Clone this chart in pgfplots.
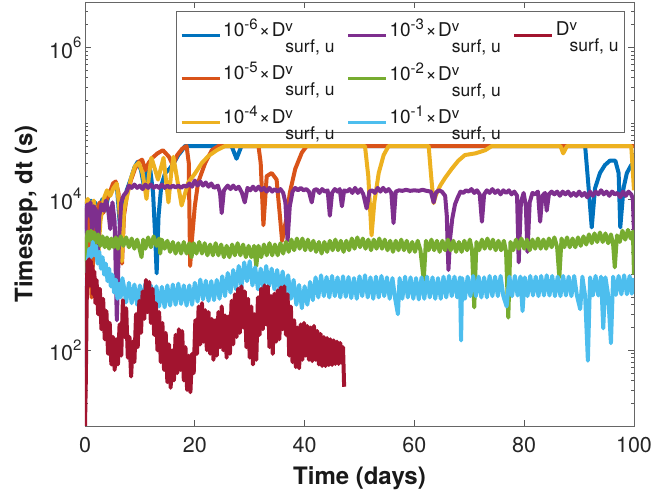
\documentclass[border=0pt]{standalone}
\usepackage{fontspec}
\setmainfont{TeX Gyre Heros}
\usepackage{pgfplots}
\pgfplotsset{compat=1.18}

\definecolor{mBlue}{rgb}{0,0.447,0.741}
\definecolor{mOrange}{rgb}{0.85,0.325,0.098}
\definecolor{mYellow}{rgb}{0.929,0.694,0.125}
\definecolor{mPurple}{rgb}{0.494,0.184,0.556}
\definecolor{mGreen}{rgb}{0.466,0.674,0.188}
\definecolor{mCyan}{rgb}{0.301,0.745,0.933}
\definecolor{mRed}{rgb}{0.635,0.078,0.184}

% superscript for tick labels
\newcommand{\sups}[1]{\raisebox{0.5em}{\fontsize{15}{15}\selectfont #1}}
% D^v_{surf, u} with stacked super- and subscript
\newcommand{\Dsu}{D\rlap{\raisebox{5pt}{\fontsize{15}{15}\selectfont v}}\raisebox{-16pt}{\fontsize{17.5}{18}\selectfont surf, u}}
\newcommand{\tenx}[1]{10\raisebox{7pt}{\fontsize{15}{15}\selectfont #1}\hspace{1.5pt}×\hspace{1.5pt}\Dsu}

\begin{document}
\begin{tikzpicture}
\begin{axis}[
  width=549pt, height=424pt, scale only axis,
  xmin=0, xmax=100, ymin=10, ymax=4e6, ymode=log,
  no markers,
  xtick={0,20,40,60,80,100}, xticklabels={0,20,40,60,80,100},
  ytick={100,10000,1000000}, yticklabels={10\sups{2},10\sups{4},10\sups{6}},
  minor ytick={20,30,40,50,60,70,80,90,200,300,400,500,600,700,800,900,1000,2000,3000,4000,5000,6000,7000,8000,9000,20000,30000,40000,50000,60000,70000,80000,90000,100000,200000,300000,400000,500000,600000,700000,800000,900000,2000000,3000000},
  tick align=inside, tick pos=both,
  major tick length=6pt, minor tick length=3.5pt,
  every tick/.append style={black!65, line width=0.6pt},
  axis line style={black!60, line width=0.7pt},
  tick label style={font=\fontsize{21.5}{24}\selectfont, text=black!85},
  xticklabel style={yshift=-8pt},
  xlabel={Time (days)}, ylabel={Timestep, dt (s)},
  label style={font=\fontsize{24}{28}\selectfont\bfseries, text=black!90},
  xlabel style={at={(axis description cs:0.5,-0.1226)}, anchor=center},
  ylabel style={at={(axis description cs:-0.1075,0.5)}, anchor=center},
  legend columns=3,
  legend cell align=left,
  legend image code/.code={\draw[#1] (0pt,-7pt) -- (38pt,-7pt);},
  legend style={at={(0.9836,0.9788)}, anchor=north east, draw=black!60,
    line width=0.6pt, fill=white, font=\fontsize{19}{22}\selectfont, text=black!90,
    inner xsep=4pt, inner ysep=6pt, row sep=20pt,
    /tikz/every even column/.append style={column sep=10pt}},
  every axis plot/.append style={line width=4pt, line join=round},
]
\coordinate (sw) at (rel axis cs:0,0);
\coordinate (ne) at (rel axis cs:1,1);

% legend, filled row by row
\addlegendimage{mBlue, line width=3pt}   \addlegendentry{\tenx{-6}}
\addlegendimage{mPurple, line width=3pt} \addlegendentry{\tenx{-3}}
\addlegendimage{mRed, line width=3pt}    \addlegendentry{\Dsu}
\addlegendimage{mOrange, line width=3pt} \addlegendentry{\tenx{-5}}
\addlegendimage{mGreen, line width=3pt}  \addlegendentry{\tenx{-2}}
\addlegendimage{empty legend}            \addlegendentry{}
\addlegendimage{mYellow, line width=3pt} \addlegendentry{\tenx{-4}}
\addlegendimage{mCyan, line width=3pt}   \addlegendentry{\tenx{-1}}

% 1e-6
\addplot[mBlue, forget plot] coordinates {
(0,3500) (0.3,9000) (0.7,6000) (1.1,9500) (1.5,5500) (1.9,9000) (2.3,3000) (2.7,8000) (3.2,10000) (3.7,7000) (4.2,10500) (4.8,13000) (5.3,16000) (5.8,15000) (6.3,5000) (6.6,2500) (7.0,8000) (7.6,13000) (8.3,18000) (9.0,26000) (9.6,31000) (10.2,24000) (10.8,14000) (11.3,26000) (11.9,24000) (12.4,12000) (12.8,3000) (13.05,1040) (13.4,6000) (13.9,15000) (14.6,22000) (15.4,25000) (16.2,30000) (17.0,38000) (17.6,43000) (18.2,50000) (26.7,50000) (27.6,34000) (28.5,50000) (91.1,50000) (91.7,15000) (92.3,4200) (92.9,13800) (93.8,22000) (94.7,28000) (95.6,32000) (96.6,32000) (97.2,22000) (97.5,4200) (98.1,14000) (98.7,22000) (99.5,28000) (100,30000)
};
% 1e-5
\addplot[mOrange, forget plot] coordinates {
(0,4000) (0.4,8000) (0.8,3000) (1.2,500) (1.6,3000) (2.1,7000) (2.7,9000) (3.3,6500) (3.9,9500) (4.5,12000) (5.1,16000) (5.6,17000) (6.1,12000) (6.5,4000) (6.75,1400) (7.1,6000) (7.7,12000) (8.4,18000) (9.1,25000) (9.8,31000) (10.4,33000) (11.0,24000) (11.6,30000) (12.3,35000) (13.2,40000) (14.2,44000) (15.3,36000) (16.0,28000) (16.8,38000) (17.7,46000) (18.5,50000) (18.9,30000) (19.15,1300) (19.5,3000) (20.0,8000) (20.6,16500) (21.9,30000) (23.1,44000) (24.3,50000) (31.6,50000) (32.0,30000) (32.5,4500) (33.1,20000) (34.0,22000) (34.9,18000) (35.5,6000) (35.9,2800) (36.7,5600) (37.3,12000) (38.3,25000) (39.5,41000) (40.4,50000) (100,50000)
};
% 1e-4
\addplot[mYellow, forget plot] coordinates {
(0,8500) (0.5,10000) (1.0,8000) (1.6,9500) (2.1,5000) (2.4,1700) (2.8,5000) (3.4,10000) (4.0,13000) (4.6,11000) (5.2,14000) (5.8,16000) (6.3,7000) (6.7,1500) (7.1,7000) (7.8,12000) (8.4,19000) (9.1,27000) (9.8,30000) (10.5,22000) (11.2,10000) (11.7,22000) (12.1,35000) (12.8,24000) (13.3,18000) (14.3,35000) (15.2,9000) (15.7,22000) (16.1,36000) (16.8,18000) (17.6,8200) (18.8,16500) (20.0,21500) (21.3,30000) (22.5,37000) (24.0,44000) (25.5,50000) (51.0,50000) (51.6,20000) (52.2,3300) (52.7,9000) (53.5,22000) (54.4,38000) (55.3,50000) (62.6,50000) (63.0,22000) (63.5,8800) (63.9,11200) (64.7,15000) (65.6,19000) (66.8,25000) (68.0,32000) (69.2,38000) (71.1,40000) (72.9,44000) (74.1,50000) (86.6,50000) (87.1,40000) (87.8,50000) (99.5,50000) (100,13000)
};
% 1e-3
\addplot[mPurple, forget plot] coordinates {
(0,1500) (0.15,6000) (0.4,8500) (0.7,6000) (1.0,9000) (1.3,4000) (1.6,8000) (2.0,7000) (2.3,1500) (2.6,6000) (3.0,8500) (3.4,7000) (3.8,9500) (4.2,7500) (4.6,4000) (5.0,9000) (5.4,5000) (5.8,250) (6.2,3000) (6.6,9000) (7.0,11000) (7.6,12500) (8.0,15000) (8.5,14000) (9.0,15500) (9.5,14000) (10.0,15000) (10.5,13500) (11.0,15500) (11.5,14000) (12.0,15500) (12.5,14000) (13.0,15000) (13.5,14000) (14.0,15500) (14.5,14000) (15.0,15000) (15.5,14000) (16.0,15000) (16.5,14200) (17.0,15000) (17.5,14000) (18.0,15000) (18.5,14500) (19.0,16000) (19.5,14500) (20.0,17500) (20.5,15000) (21.0,17000) (21.5,15000) (22.0,16500) (22.5,14500) (23.0,16000) (23.5,14000) (24.2,15000) (24.6,12000) (24.9,6500) (25.3,13000) (26.0,15000) (26.5,13500) (27.0,15000) (27.5,13500) (28.0,14500) (28.6,12000) (29.1,9000) (29.6,14000) (30.1,13000) (30.6,14500) (31.1,13000) (31.6,14500) (32.1,13000) (32.6,14000) (33.1,12500) (33.6,14000) (34.1,12500) (34.6,13500) (35.1,12500) (35.6,13500) (36.1,12000) (36.5,9000) (36.9,2800) (37.3,8000) (37.8,12500) (38.3,14000) (38.8,13000) (39.3,14000) (39.8,13000) (40.3,13500) (40.8,12500) (41.3,9000) (41.7,13000) (42.2,13500) (42.7,12000) (43.2,13500) (43.7,12500) (44.2,13000) (44.6,6000) (45.0,12000) (45.5,13500) (46.0,12500) (46.4,13500) (46.8,8000) (47.2,13000) (47.7,12500) (48.2,13500) (48.7,12000) (49.2,14000) (49.7,12000) (50.2,13500) (50.7,11500) (51.3,7500) (51.8,12500) (52.3,13000) (52.8,12000) (53.3,14000) (53.8,12500) (54.3,14000) (54.8,12500) (55.3,13500) (55.8,12000) (56.2,4800) (56.6,12500) (57.2,13000) (57.8,12800) (58.5,13200) (59.2,12800) (60.0,13000) (60.8,12800) (61.5,13200) (62.2,12800) (63.0,12500) (63.5,9000) (63.9,12000) (64.4,13000) (65.0,12500) (65.6,11000) (65.9,6000) (66.2,1150) (66.5,3000) (66.9,5500) (67.4,8500) (67.9,10500) (68.4,12500) (68.9,12000) (69.4,13000) (69.9,12500) (70.4,13500) (70.9,12000) (71.4,13000) (71.9,11500) (72.3,5000) (72.7,11500) (73.2,13000) (73.7,12000) (74.2,13500) (74.7,12000) (75.2,13000) (75.7,11500) (76.2,13000) (76.7,12000) (77.2,13000) (77.7,11500) (78.2,12500) (78.7,11000) (79.0,1450) (79.4,9000) (79.9,12000) (80.3,8000) (80.6,2000) (81.0,9000) (81.5,12000) (82.0,11500) (82.5,12500) (82.9,5000) (83.3,11000) (83.8,12000) (84.1,7000) (84.5,11500) (85.0,12500) (85.5,11500) (86.0,12500) (86.5,11000) (87.0,12500) (87.5,11500) (88.0,12500) (88.5,11000) (89.0,12000) (89.5,11000) (90.0,12500) (90.5,11000) (91.0,12000) (91.5,10500) (92.0,12500) (92.5,11000) (93.0,12500) (93.5,11500) (94.0,13000) (94.5,11500) (95.0,12500) (95.5,11000) (96.0,12500) (96.5,11500) (97.0,12000) (97.5,10500) (98.0,12500) (98.5,11000) (99.0,12500) (99.5,11500) (99.8,10000) (100,3600)
};
% 1e-2
\addplot[mGreen, forget plot] coordinates {
(0,1000) (0.2,2600) (0.5,3700) (0.8,2800) (1.1,3800) (1.4,2900) (1.7,3600) (2.0,2600) (2.4,3400) (2.8,2400) (3.2,3200) (3.6,2300) (4.0,3100) (4.4,2200) (4.8,3000) (5.2,2300) (5.6,3100) (6.0,2200) (6.5,3200) (7.0,2400) (7.5,3100) (8.0,2300) (8.5,3000) (9.0,2200) (9.5,2900) (10.0,2100) (10.3,1700) (10.6,2900) (11.0,2200) (11.5,3100) (12.0,2300) (12.5,3200) (13.0,2400) (13.5,3000) (13.7,1900) (14.0,2900) (14.5,2200) (15.0,2800) (15.5,2000) (16.0,2700) (16.5,1900) (17.0,2600) (17.5,1900) (18.0,2700) (18.5,1900) (19.0,2600) (19.4,1700) (19.8,2600) (20.3,1900) (20.8,2700) (21.3,1900) (21.8,2600) (22.3,1800) (22.8,2500) (23.3,1800) (23.8,2600) (24.3,1800) (24.8,2500) (25.3,1700) (25.8,2400) (26.3,1700) (26.8,2500) (27.3,1800) (27.8,2600) (28.3,1800) (28.8,2500) (29.3,1700) (29.8,2400) (30.3,1700) (30.8,2400) (31.2,1300) (31.6,2400) (32.1,1700) (32.6,2500) (33.1,1800) (33.6,2600) (34.1,1800) (34.6,2500) (35.1,1800) (35.6,2600) (36.1,1900) (36.6,2700) (37.1,2000) (37.6,2900) (38.1,2100) (38.6,3000) (39.1,2200) (39.6,3000) (40.1,2100) (40.6,2900) (41.1,2100) (41.6,2800) (42.1,2000) (42.6,2700) (43.1,1900) (43.6,2700) (44.1,2000) (44.6,2800) (45.1,2100) (45.6,2900) (46.1,2100) (46.6,2800) (47.1,2000) (47.6,2800) (48.1,2100) (48.6,3000) (49.1,2200) (49.6,3100) (50.1,2300) (50.6,3000) (51.1,2200) (51.6,2900) (52.1,2100) (52.6,2900) (53.1,2200) (53.6,3000) (54.1,2200) (54.6,2900) (55.1,2100) (55.6,2800) (56.1,2000) (56.6,2800) (57.1,2100) (57.6,2900) (58.1,2100) (58.6,2800) (59.1,2000) (59.6,2700) (60.1,2000) (60.6,2800) (61.1,2100) (61.7,840) (62.1,2800) (62.6,2100) (63.1,2900) (63.6,2100) (64.1,2800) (64.6,2000) (65.1,2800) (65.6,2100) (66.1,2900) (66.6,2100) (67.1,2800) (67.6,2000) (68.1,2700) (68.6,2000) (69.1,2800) (69.6,2100) (70.1,2900) (70.5,2100) (70.9,370) (71.3,2700) (71.8,2100) (72.3,2900) (72.8,2200) (73.3,3000) (73.8,2200) (74.3,2900) (74.8,2100) (75.3,2800) (75.8,2100) (76.3,2800) (76.7,2000) (77.1,270) (77.5,2700) (78.0,2100) (78.5,2900) (79.0,2200) (79.5,3000) (80.0,2200) (80.5,2900) (81.0,2100) (81.5,2900) (82.0,2200) (82.5,3000) (83.0,2200) (83.5,2900) (84.0,2200) (84.5,3000) (85.0,2300) (85.5,3100) (86.0,2300) (86.4,920) (86.8,3000) (87.3,2300) (87.8,3100) (88.3,2300) (88.8,3000) (89.3,2300) (89.8,3100) (90.3,2400) (90.8,3200) (91.3,2500) (91.8,3400) (92.3,2600) (92.8,3500) (93.3,2700) (93.8,3600) (94.3,2700) (94.8,3500) (95.3,2600) (95.8,3400) (96.2,2500) (96.5,1250) (96.9,3300) (97.4,2700) (97.9,3800) (98.4,2900) (98.9,3900) (99.4,3000) (99.8,3700) (100,1000)
};
% 1e-1
\addplot[mCyan, forget plot] coordinates {
(0,60) (0.2,500) (0.5,1500) (0.8,2200) (1.1,1700) (1.4,2700) (1.7,1800) (2.0,2400) (2.3,1400) (2.6,2000) (2.9,1200) (3.2,1700) (3.5,1000) (3.8,1400) (4.1,820) (4.4,1200) (4.7,700) (5.0,1000) (5.3,580) (5.6,860) (5.9,480) (6.2,760) (6.5,500) (6.8,900)
(7.0,760) (7.5,430) (8.0,780) (8.5,420) (9.0,740) (9.5,400) (10.0,720) (10.5,410) (11.0,760) (11.5,420) (12.0,720) (12.5,390) (13.0,700) (13.5,380) (14.0,690) (14.5,370) (15.0,720) (15.5,390) (16.0,740) (16.5,400) (17.0,760) (17.5,410) (18.0,720) (18.5,390) (19.0,720) (19.5,400) (20.0,780) (20.5,440) (21.0,860) (21.5,470) (22.0,830) (22.5,450) (23.0,820) (23.5,460) (24.0,850) (24.5,480) (25.0,950) (25.5,520) (26.0,1050) (26.5,580) (27.0,1150) (27.5,640) (28.0,1300) (28.5,700) (29.0,1450) (29.5,820) (30.0,1500) (30.5,720) (31.0,1250) (31.5,640) (32.0,1200) (32.5,660) (33.0,1300) (33.5,700) (34.0,1200) (34.5,640) (35.0,1150) (35.5,600) (36.0,1100) (36.5,560) (37.0,980) (37.5,480) (38.0,850) (38.5,400) (39.0,730) (39.5,360) (40.0,700) (40.5,400) (41.0,800) (41.5,460) (42.0,920) (42.5,500) (43.0,980) (43.5,520)
(44.0,930) (44.5,500) (45.0,960) (45.5,520) (46.0,920) (46.5,500) (47.0,950) (47.5,510) (48.0,930) (48.5,490) (49.0,900) (49.5,480) (50.0,950) (50.5,520) (51.0,980) (51.5,500) (52.0,920) (52.5,480) (53.0,940) (53.5,500) (54.0,960) (54.5,520) (55.0,920) (55.5,480) (56.0,900) (56.5,480) (57.0,300) (57.3,900) (57.8,480) (58.3,940) (58.8,500) (59.3,920) (59.8,480) (60.3,900) (60.8,470) (61.3,920) (61.8,480) (62.3,940) (62.8,500) (63.3,920) (63.8,480) (64.3,900) (64.8,480) (65.3,940) (65.8,500) (66.3,960) (66.8,520) (67.3,940) (67.8,500) (68.3,920) (68.5,135) (68.7,900) (69.2,480) (69.7,940) (70.2,520) (70.7,960) (71.2,520) (71.7,940) (72.2,500) (72.7,920) (73.2,500) (73.7,960) (74.2,520) (74.7,940) (75.2,520) (75.7,960) (76.2,520) (76.8,380) (77.3,940) (77.8,520) (78.3,960) (78.8,530) (79.3,940) (79.7,330) (80.1,920) (80.6,520) (81.1,960) (81.6,530) (82.1,940) (82.6,520) (83.1,960) (83.6,530) (84.1,980) (84.6,530) (85.1,960) (85.6,520) (86.1,940) (86.6,520) (87.1,960) (87.6,530) (88.1,940) (88.6,520) (89.1,960) (89.6,530) (90.2,350) (90.6,940) (91.1,520) (91.6,73) (92.0,920) (92.5,530) (93.0,960) (93.5,530) (94.0,940) (94.4,195) (94.8,920) (95.3,530) (95.8,124) (96.2,940) (96.7,540) (97.2,960) (97.7,550) (98.2,980) (98.7,550) (99.2,960) (99.6,560) (100,900)
};
% 1
\addplot[mRed, forget plot] coordinates {
(0,10) (0.15,40) (0.3,400) (0.45,1500) (0.6,700) (0.75,1600) (0.9,800) (1.05,1500) (1.2,700) (1.35,1300) (1.5,550) (1.7,1100) (1.9,420) (2.1,850) (2.4,300) (2.7,650) (3.0,190) (3.3,480) (3.6,140) (3.9,330) (4.2,90) (4.5,230) (4.8,65) (5.1,150) (5.4,55) (5.7,140) (6.0,65) (6.3,220) (6.6,85) (6.9,460) (7.2,150) (7.5,360) (7.8,80) (8.1,150) (8.4,45) (8.7,130) (9.0,70) (9.3,300) (9.6,110) (9.9,450) (10.2,170) (10.5,600) (10.8,260) (11.1,850) (11.4,320) (11.7,800) (12.0,230) (12.3,650) (12.6,160) (12.9,420) (13.2,100) (13.5,320) (13.8,70) (14.1,230) (14.4,55) (14.7,170) (15.0,38) (15.3,120) (15.6,32) (15.9,100) (16.2,40) (16.5,160) (16.8,50) (17.1,190) (17.4,55) (17.7,180) (18.0,40) (18.3,110) (18.6,30) (18.9,85) (19.2,28) (19.5,90) (19.8,50) (20.1,250) (20.4,90) (20.7,380) (21.0,120) (21.3,420) (21.6,130) (21.9,340) (22.2,100) (22.5,320) (22.8,90) (23.1,260) (23.4,75) (23.7,250) (24.0,85) (24.3,320) (24.6,110) (24.9,380) (25.2,100) (25.5,290) (25.8,80) (26.1,280) (26.4,90) (26.7,450) (27.0,120) (27.3,550) (27.6,150) (27.9,650) (28.2,170) (28.5,700) (28.8,200) (29.1,600) (29.4,110) (29.7,480) (30.0,80) (30.3,380) (30.6,65) (30.9,300) (31.2,75) (31.5,500) (31.8,160) (32.1,650) (32.4,190) (32.7,720) (33.0,220) (33.3,700) (33.6,110) (33.9,520) (34.2,90) (34.5,560) (34.8,130) (35.1,620) (35.4,140) (35.7,680) (36.0,190) (36.3,700) (36.6,160) (36.9,550) (37.2,85) (37.5,380) (37.8,70) (38.1,250) (38.4,60) (38.7,200) (39.0,58) (39.3,220) (39.6,75) (39.9,230) (40.2,85) (40.5,210) (40.8,75) (41.1,200) (41.4,72) (41.7,210) (42.0,75) (42.3,180) (42.6,65) (42.9,165) (43.2,62) (43.5,150) (43.8,62) (44.1,145) (44.4,64) (44.7,140) (45.0,64) (45.3,135) (45.6,66) (45.9,130) (46.2,66) (46.5,125) (46.8,68) (47.0,110) (47.2,33)
};
\end{axis}
\pgfresetboundingbox
\path[use as bounding box] ([shift={(-85pt,-72pt)}]sw) rectangle ([shift={(20pt,2pt)}]ne);
\end{tikzpicture}
\end{document}
